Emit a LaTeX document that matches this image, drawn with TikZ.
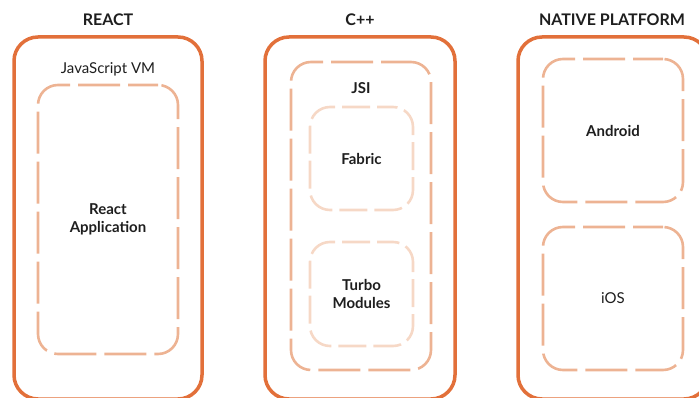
\documentclass[tikz,border=0pt]{standalone}
\usepackage{fontspec}
\setmainfont{Lato}
\definecolor{outerc}{HTML}{E2703A}
\definecolor{midc}{HTML}{EDB393}
\definecolor{lightc}{HTML}{F6D8C6}
\definecolor{txt}{HTML}{1E1E1E}
\begin{document}
\begin{tikzpicture}[x=1pt,y=-1pt,
  outerbox/.style={draw=outerc,line width=3.5pt,rounded corners=24pt,inner sep=0pt},
  midbox/.style={draw=midc,line width=2.6pt,rounded corners=20pt,dash pattern=on 42pt off 8pt,dash phase=12pt,inner sep=0pt,text=txt,font=\fontsize{15}{18}\selectfont\bfseries,align=center},
  lightbox/.style={midbox,draw=lightc,dash pattern=on 28pt off 7pt},
  title/.style={text=txt,font=\fontsize{16}{19}\selectfont\bfseries},
  lbl/.style={text=txt,font=\fontsize{15}{18}\selectfont}
]
\useasboundingbox (0,0) rectangle (699,398);
\clip (0,0) rectangle (699,398);
% titles
\node[title] (t1) at (108,20) {REACT};
\node[title] (t2) at (360,20) {C++};
\node[title] (t3) at (612,20) {NATIVE PLATFORM};
% outer boxes
\node[outerbox,minimum width=188pt,minimum height=362pt] (react) at (108,218) {};
\node[outerbox,minimum width=190pt,minimum height=362pt] (cpp) at (360,218) {};
\node[outerbox,minimum width=190pt,minimum height=362pt] (native) at (613,218) {};
% react column
\node[lbl] (jsvm) at (108,69) {JavaScript VM};
\node[midbox,minimum width=140pt,minimum height=269pt] (app) at (108,219.5) {React\\Application};
% c++ column
\node[midbox,minimum width=140pt,minimum height=308pt] (jsibox) at (361,216) {};
\node[lbl,font=\fontsize{15}{18}\selectfont\bfseries] (jsi) at (361,88) {JSI};
\node[lightbox,minimum width=103pt,minimum height=103pt] (fabric) at (361.5,158.5) {Fabric};
\node[lightbox,minimum width=103pt,minimum height=104pt] (turbo) at (361.5,294) {Turbo\\Modules};
% native column
\node[midbox,minimum width=140pt,minimum height=143pt] (android) at (613,130.5) {Android};
\node[midbox,minimum width=140pt,minimum height=143pt,font=\fontsize{15}{18}\selectfont] (ios) at (613,298.5) {iOS};
\end{tikzpicture}
\end{document}
